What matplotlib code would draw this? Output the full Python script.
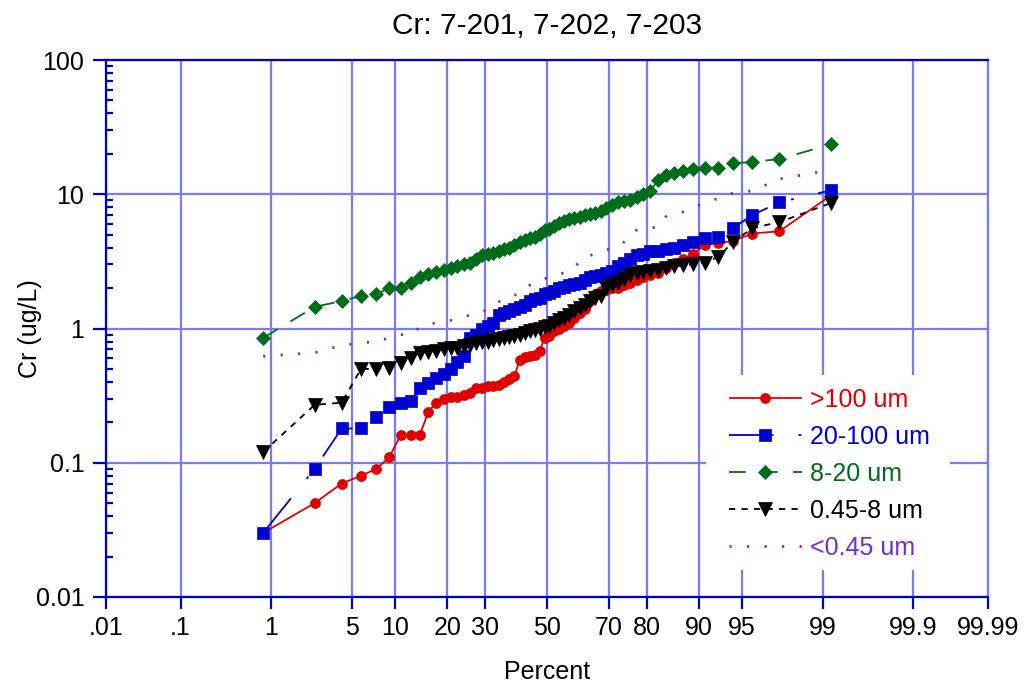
import numpy as np
import matplotlib
matplotlib.use("Agg")
import matplotlib.pyplot as plt
from matplotlib.patches import Rectangle
from matplotlib.ticker import FixedLocator, NullLocator, NullFormatter, FixedFormatter
from statistics import NormalDist

plt.rcParams["font.family"] = ["Liberation Sans", "DejaVu Sans"]
plt.rcParams["lines.scale_dashes"] = False

# ---- data (sorted concentrations, ug/L) ----
title = "Cr: 7-201, 7-202, 7-203"
series_labels = [">100 um", "20-100 um", "8-20 um", "0.45-8 um", "<0.45 um"]

cr_gt100 = [0.03, 0.05, 0.07, 0.08, 0.09, 0.11, 0.16, 0.16, 0.16, 0.24,
            0.28, 0.30, 0.31, 0.31, 0.32, 0.33, 0.36, 0.36, 0.37, 0.37,
            0.38, 0.40, 0.42, 0.44, 0.58, 0.61, 0.62, 0.64, 0.68, 0.85,
            0.88, 0.95, 1.0, 1.05, 1.1, 1.2, 1.3, 1.4, 1.6, 1.8,
            1.9, 1.95, 2.0, 2.0, 2.1, 2.2, 2.3, 2.4, 2.5, 2.6,
            2.8, 3.1, 3.3, 3.6, 4.2, 4.3, 4.5, 5.1, 5.3, 9.8]

cr_20_100 = [0.03, 0.09, 0.18, 0.18, 0.22, 0.26, 0.28, 0.29, 0.36, 0.39,
             0.43, 0.46, 0.50, 0.56, 0.62, 0.85, 0.90, 1.0, 1.05, 1.1,
             1.25, 1.3, 1.35, 1.4, 1.45, 1.5, 1.6, 1.65, 1.7, 1.8,
             1.85, 1.9, 2.0, 2.05, 2.1, 2.15, 2.2, 2.3, 2.4, 2.45,
             2.5, 2.6, 2.7, 2.9, 3.1, 3.3, 3.5, 3.6, 3.75, 3.8,
             3.9, 4.0, 4.2, 4.4, 4.7, 4.8, 5.6, 7.0, 8.7, 10.7]

cr_8_20 = [0.85, 1.45, 1.6, 1.75, 1.8, 2.0, 2.0, 2.2, 2.4, 2.55,
           2.65, 2.75, 2.8, 2.9, 3.0, 3.1, 3.3, 3.5, 3.6, 3.65,
           3.8, 3.9, 4.0, 4.2, 4.4, 4.6, 4.7, 4.8, 5.1, 5.4,
           5.5, 5.8, 6.1, 6.3, 6.5, 6.6, 6.8, 7.0, 7.1, 7.3,
           7.5, 7.9, 8.3, 8.7, 8.9, 9.1, 9.5, 10.0, 10.5, 12.8,
           13.8, 14.4, 15.0, 15.5, 15.7, 15.8, 17.0, 17.4, 18.3, 23.5]

cr_045_8 = [0.12, 0.27, 0.28, 0.50, 0.50, 0.51, 0.55, 0.60, 0.66, 0.67,
            0.68, 0.70, 0.71, 0.72, 0.74, 0.76, 0.78, 0.79, 0.80, 0.82,
            0.84, 0.85, 0.86, 0.88, 0.90, 0.93, 0.96, 0.98, 1.0, 1.02,
            1.05, 1.1, 1.15, 1.2, 1.27, 1.35, 1.42, 1.5, 1.6, 1.7,
            1.75, 2.0, 2.1, 2.2, 2.35, 2.5, 2.6, 2.65, 2.7, 2.75,
            2.8, 2.9, 2.95, 3.0, 3.1, 3.4, 4.4, 5.6, 6.2, 8.6]

cr_lt045 = [0.62, 0.66, 0.75, 0.78, 0.80, 0.85, 0.90, 0.90, 1.02, 1.08,
            1.1, 1.12, 1.15, 1.18, 1.22, 1.26, 1.3, 1.32, 1.4, 1.5,
            1.58, 1.65, 1.7, 1.75, 1.9, 2.0, 2.1, 2.2, 2.3, 2.35,
            2.4, 2.5, 2.55, 2.6, 2.7, 2.9, 3.1, 3.4, 3.5, 3.6,
            3.75, 3.85, 3.95, 4.2, 4.4, 5.0, 5.4, 5.5, 5.6, 5.7,
            6.8, 7.2, 7.4, 8.0, 8.6, 9.3, 10.2, 10.6, 13.0, 15.2]

pct_ticks = [0.01, 0.1, 1, 5, 10, 20, 30, 50, 70, 80, 90, 95, 99, 99.9, 99.99]
pct_labels = [".01", ".1", "1", "5", "10", "20", "30", "50", "70", "80",
              "90", "95", "99", "99.9", "99.99"]
y_ticks = [0.01, 0.1, 1, 10, 100]
y_labels = ["0.01", "0.1", "1", "10", "100"]

# ---- normal-probability axis ----
_nd = NormalDist()
_ppf = np.vectorize(_nd.inv_cdf, otypes=[float])
_cdf = np.vectorize(_nd.cdf, otypes=[float])


def pct_to_z(p):
    p = np.clip(np.asarray(p, dtype=float) / 100.0, 1e-12, 1 - 1e-12)
    return _ppf(p)


def z_to_pct(z):
    return _cdf(np.asarray(z, dtype=float)) * 100.0


def hazen_positions(values):
    n = len(values)
    return (np.arange(1, n + 1) - 0.5) / n * 100.0


AXIS_BLUE = "#0000cc"
GRID_BLUE = "#7c7cec"

fig = plt.figure(figsize=(10.26, 6.86), dpi=100)
ax = fig.add_axes([106 / 1026, 1 - 597 / 686, 882 / 1026, 537 / 686])
ax.set_xscale("function", functions=(pct_to_z, z_to_pct))
ax.set_yscale("log")
ax.set_xlim(0.01, 99.99)
ax.set_ylim(0.01, 100)

styles = [
    dict(color="#e00000", marker="o", ms=7.2, lw=1.3, dashes=None),
    dict(color="#0000d0", marker="s", ms=8.0, lw=1.3, dashes=(32, 18, 2, 18)),
    dict(color="#006b1a", marker="D", ms=7.6, lw=1.3, dashes=(12, 11)),
    dict(color="black", marker="v", ms=10, lw=1.3, dashes=(4.5, 4.5)),
    dict(color="#7030d0", marker=None, ms=0, lw=2.0, dashes=(1.6, 11)),
]
all_series = [cr_gt100, cr_20_100, cr_8_20, cr_045_8, cr_lt045]

handles = []
for vals, lab, st in zip(all_series, series_labels, styles):
    pos = hazen_positions(vals)
    line, = ax.plot(pos, vals, color=st["color"], lw=st["lw"],
                    marker=st["marker"], ms=st["ms"], mec=st["color"],
                    mfc=st["color"], mew=0.5, label=lab, zorder=3,
                    dash_capstyle="butt", solid_capstyle="butt")
    if st["dashes"] is not None:
        line.set_dashes(st["dashes"])
    handles.append(line)

# grid and axes decoration
ax.xaxis.set_major_locator(FixedLocator(pct_ticks))
ax.xaxis.set_major_formatter(FixedFormatter(pct_labels))
ax.xaxis.set_minor_locator(NullLocator())
ax.yaxis.set_major_locator(FixedLocator(y_ticks))
ax.yaxis.set_major_formatter(FixedFormatter(y_labels))
ax.yaxis.set_minor_formatter(NullFormatter())
ax.grid(True, which="major", color=GRID_BLUE, lw=1.6, zorder=1)
ax.set_axisbelow(True)

for side in ("left", "bottom", "top"):
    ax.spines[side].set_color(AXIS_BLUE)
    ax.spines[side].set_linewidth(1.6)
ax.spines["right"].set_color(GRID_BLUE)
ax.spines["right"].set_linewidth(1.6)

ax.tick_params(axis="x", which="major", direction="out", length=8.5,
               width=1.6, color=AXIS_BLUE, labelsize=18, pad=5)
ax.tick_params(axis="y", which="major", direction="out", length=9.5,
               width=1.6, color=AXIS_BLUE, labelsize=18, pad=6)
ax.tick_params(axis="y", which="minor", direction="in", length=5,
               width=1.6, color=AXIS_BLUE)

ax.set_xlabel("Percent", fontsize=18)
ax.xaxis.set_label_coords(0.5, -0.117)
ax.set_ylabel("Cr (ug/L)", fontsize=18)
ax.yaxis.set_label_coords(-0.072, 0.5)
ax.set_title(title, fontsize=21.5, pad=19)


def px_to_axes(px, py):
    return (px - 106) / 882, (597 - py) / 537


# white panel behind the legend, covering the grid
x0, y_top = px_to_axes(706, 375)
x1, y_bot = px_to_axes(950, 570)
ax.add_patch(Rectangle((x0, y_bot), x1 - x0, y_top - y_bot,
                       transform=ax.transAxes, facecolor="white",
                       edgecolor="none", zorder=2))

leg = ax.legend(handles=handles, loc="upper left",
                bbox_to_anchor=px_to_axes(729, 388),
                fontsize=18, handlelength=2.9, handletextpad=0.35,
                labelspacing=0.52, borderpad=0, borderaxespad=0,
                numpoints=1, frameon=False, labelcolor="linecolor")

fig.savefig("out.png", dpi=100)
